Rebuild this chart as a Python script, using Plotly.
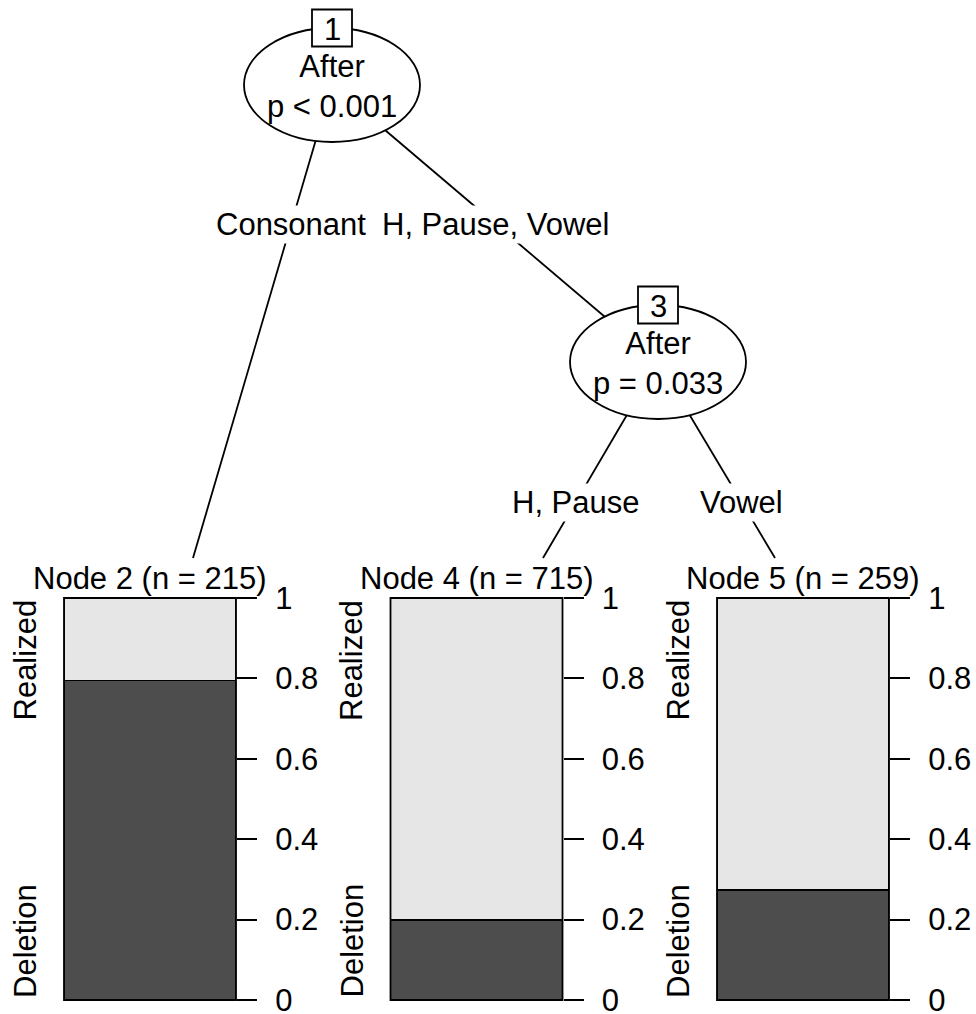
import plotly.graph_objects as go

# ---------------- data ----------------
classes = ["Deletion", "Realized"]
class_colors = ["#4d4d4d", "#e6e6e6"]
terminal_ids = [2, 4, 5]
terminal_n = [215, 715, 259]
deletion_share = [0.795, 0.199, 0.274]
realized_share = [1 - d for d in deletion_share]
inner_ids = [1, 3]
inner_var = ["After", "After"]
inner_p = ["p < 0.001", "p = 0.033"]
edge_pairs = [(1, 2), (1, 3), (3, 4), (3, 5)]
edge_labels = ["Consonant", "H, Pause, Vowel", "H, Pause", "Vowel"]
y_ticks = [0, 0.2, 0.4, 0.6, 0.8, 1]
y_ticklabels = ["0", "0.2", "0.4", "0.6", "0.8", "1"]

# ---------------- layout geometry (pixels) ----------------
W, H = 976, 1014
FONT = "Liberation Sans, Arial, Helvetica, sans-serif"
FS = 31
LW = 1.8
inner_pos = {1: (332, 85), 3: (658, 362)}
ell_rx, ell_ry = 88, 57
box_w, box_h = 40, 37
term_top = 558
term_line_x = {2: 193, 4: 543, 5: 775}
panel_left = {2: 64, 4: 390.5, 5: 717}
panel_w = 172
panel_y = (598, 1000)
edge_label_y = {1: 224, 3: 502}
title_y = 578
class_label_dx = -39

def esc(s):
    return s.replace("<", "&lt;").replace(">", "&gt;")

fig = go.Figure()

# main pixel-coordinate axis for the tree
fig.add_trace(go.Scatter(x=[0, W], y=[0, H], mode="markers",
                         marker=dict(opacity=0), hoverinfo="skip",
                         showlegend=False, xaxis="x", yaxis="y"))
layout = dict(
    width=W, height=H, margin=dict(l=0, r=0, t=0, b=0, pad=0, autoexpand=False),
    paper_bgcolor="white", plot_bgcolor="rgba(0,0,0,0)",
    showlegend=False, barmode="stack",
    font=dict(family=FONT, size=FS, color="black"),
    xaxis=dict(domain=[0, 1], range=[0, W], visible=False, fixedrange=True,
               automargin=False),
    yaxis=dict(domain=[0, 1], range=[H, 0], visible=False, fixedrange=True,
               automargin=False),
)

shapes = []
annotations = []

def child_point(c):
    if c in inner_pos:
        return inner_pos[c]
    return (term_line_x[c], term_top)

# edges
for (p, c), lab in zip(edge_pairs, edge_labels):
    px, py = inner_pos[p]
    cx, cy = child_point(c)
    shapes.append(dict(type="line", xref="x", yref="y", x0=px, y0=py, x1=cx, y1=cy,
                       line=dict(color="black", width=LW)))
    ly = edge_label_y[p]
    lx = px + (cx - px) * (ly - py) / (cy - py)
    annotations.append(dict(xref="x", yref="y", x=lx, y=ly, text=esc(lab),
                            showarrow=False, bgcolor="white", borderpad=1,
                            xanchor="center", yanchor="middle",
                            font=dict(family=FONT, size=FS, color="black")))

# inner nodes
for nid, var, pv in zip(inner_ids, inner_var, inner_p):
    cx, cy = inner_pos[nid]
    shapes.append(dict(type="circle", xref="x", yref="y",
                       x0=cx - ell_rx, x1=cx + ell_rx, y0=cy - ell_ry, y1=cy + ell_ry,
                       fillcolor="white", line=dict(color="black", width=LW)))
    by = cy - ell_ry
    shapes.append(dict(type="rect", xref="x", yref="y",
                       x0=cx - box_w / 2, x1=cx + box_w / 2,
                       y0=by - box_h / 2, y1=by + box_h / 2,
                       fillcolor="white", line=dict(color="black", width=LW)))
    annotations.append(dict(xref="x", yref="y", x=cx, y=by + 1, text=str(nid),
                            showarrow=False, xanchor="center", yanchor="middle",
                            font=dict(family=FONT, size=FS, color="black")))
    annotations.append(dict(xref="x", yref="y", x=cx, y=cy + 1,
                            text=esc(var) + "<br>" + esc(pv),
                            showarrow=False, xanchor="center", yanchor="middle",
                            font=dict(family=FONT, size=FS, color="black")))

# terminal panels
for k, (nid, n, d, r) in enumerate(zip(terminal_ids, terminal_n,
                                         deletion_share, realized_share)):
    ax = k + 2
    x0 = panel_left[nid]
    x1 = x0 + panel_w
    dom_x = [x0 / W, x1 / W]
    dom_y = [1 - panel_y[1] / H, 1 - panel_y[0] / H]
    xa = "x%d" % ax
    ya = "y%d" % ax
    for cls, col, val in zip(classes, class_colors, [d, r]):
        fig.add_trace(go.Bar(x=[0], y=[val], name=cls, width=1,
                             marker=dict(color=col, line=dict(color="black", width=LW)),
                             xaxis=xa, yaxis=ya, hoverinfo="skip", showlegend=False))
    layout["xaxis%d" % ax] = dict(domain=dom_x, range=[-0.5, 0.5], anchor=ya,
                                  visible=False, fixedrange=True, automargin=False)
    layout["yaxis%d" % ax] = dict(domain=dom_y, range=[0, 1], anchor=xa, side="right",
                                  tickmode="array", tickvals=y_ticks, ticktext=y_ticklabels,
                                  ticks="outside", ticklen=20, tickwidth=LW, tickcolor="black",
                                  ticklabelstandoff=12, ticklabeloverflow="allow",
                                  showgrid=False, zeroline=False, showline=False,
                                  fixedrange=True, automargin=False,
                                  tickfont=dict(family=FONT, size=FS, color="black"))
    shapes.append(dict(type="rect", xref="paper", yref="paper",
                       x0=dom_x[0], x1=dom_x[1], y0=dom_y[0], y1=dom_y[1],
                       line=dict(color="black", width=LW), fillcolor="rgba(0,0,0,0)"))
    cxp = (x0 + x1) / 2
    annotations.append(dict(xref="x", yref="y", x=cxp, y=title_y,
                            text="Node %d (n = %d)" % (nid, n),
                            showarrow=False, xanchor="center", yanchor="middle",
                            font=dict(family=FONT, size=FS, color="black")))
    annotations.append(dict(xref="x", yref="y", x=x0 + class_label_dx, y=panel_y[0],
                            text=classes[1], textangle=-90,
                            showarrow=False, xanchor="center", yanchor="top",
                            font=dict(family=FONT, size=FS, color="black")))
    annotations.append(dict(xref="x", yref="y", x=x0 + class_label_dx, y=panel_y[1],
                            text=classes[0], textangle=-90,
                            showarrow=False, xanchor="center", yanchor="bottom",
                            font=dict(family=FONT, size=FS, color="black")))

layout["shapes"] = shapes
layout["annotations"] = annotations
fig.update_layout(**layout)
fig.write_html("out.html")
